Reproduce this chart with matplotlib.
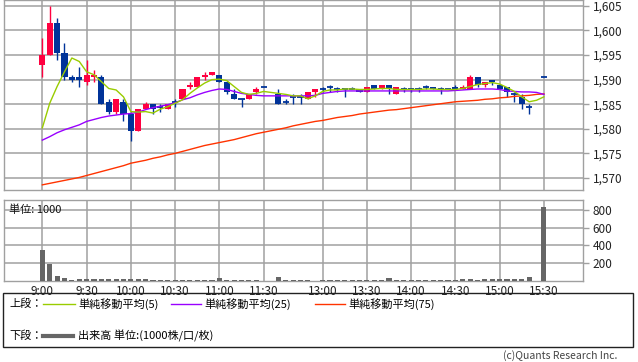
import numpy as np
import matplotlib
matplotlib.use('Agg')
import matplotlib.pyplot as plt
from matplotlib.patches import Rectangle
from matplotlib.lines import Line2D

plt.rcParams['font.family'] = ['Noto Sans CJK JP', 'DejaVu Sans']

# 5-minute slots: 0..30 = 9:00..11:30, 31 = lunch gap, 32..68 = 12:30..15:30
tick_labels = ['9:00', '9:30', '10:00', '10:30', '11:00', '11:30',
               '13:00', '13:30', '14:00', '14:30', '15:00', '15:30']

def slot(t):
    h, m = map(int, t.split(':'))
    mins = h * 60 + m
    if mins <= 11 * 60 + 30:
        return (mins - 9 * 60) // 5
    return (mins - (12 * 60 + 30)) // 5 + 32

N = 69
# OHLC per slot (None = no trade)
opens = [1593, 1595, 1601.5, 1595.5, 1590.5, 1590.5, 1589.5, 1590.5, 1590.5, 1585.5,
         1583.5, 1585.5, 1583, 1579.5, 1584, 1585, 1584.5, 1584, 1585.5, 1586,
         1588.5, 1588.5, 1590.5, 1591, 1591, 1589.5, 1587, 1586, 1586, 1587.5,
         1588.5, None, 1587, 1585.5, 1586.5, 1586.5, 1586, 1587.5, 1588, 1588.5,
         1588, 1588, 1588, 1588, 1587.5, 1589, 1588, 1589, 1587, 1588,
         1588, 1588, 1588.5, 1588.5, 1588, 1588, 1588.5, 1588, 1588, 1590.5,
         1589, 1590, 1589, 1588.5, 1587, 1586.5, 1584.5, None, 1590.5]
highs = [1598.5, 1605, 1602.5, 1597.5, 1591, 1592.5, 1594, 1592, 1591, 1586,
         1586, 1586, 1583.5, 1584, 1585.5, 1585, 1585, 1585, 1586, 1588,
         1589.5, 1590.5, 1591.5, 1591.5, 1591, 1589.5, 1588, 1586, 1587, 1588.5,
         1588.5, None, 1588, 1586, 1587, 1587, 1587.5, 1588, 1588.5, 1589,
         1588.5, 1588, 1588.5, 1588, 1588.5, 1589, 1589, 1589, 1588.5, 1588.5,
         1588, 1588.5, 1589, 1588.5, 1588.5, 1588, 1589, 1589, 1591, 1590.5,
         1589.5, 1590, 1589, 1588.5, 1587.5, 1587, 1585, None, 1590.5]
lows = [1590.5, 1595, 1594, 1590, 1589.5, 1588.5, 1589, 1589.5, 1585, 1583,
        1583, 1581.5, 1577.5, 1579.5, 1584, 1583, 1583.5, 1584, 1584.5, 1586,
        1588, 1588.5, 1590, 1591, 1589.5, 1587, 1586, 1584.5, 1586, 1587,
        1588.5, None, 1585, 1585, 1585, 1585, 1586, 1586.5, 1587.5, 1587.5,
        1587.5, 1586.5, 1588, 1587.5, 1587.5, 1588, 1588, 1587, 1587, 1587.5,
        1587.5, 1587.5, 1588, 1588, 1587, 1588, 1588, 1588, 1588, 1588.5,
        1588.5, 1589, 1588, 1586.5, 1585.5, 1584, 1583, None, 1590.5]
closes = [1595, 1601.5, 1595.5, 1590.5, 1590, 1590, 1591, 1591, 1585, 1583.5,
          1586, 1583, 1579.5, 1584, 1585, 1584, 1584.5, 1585, 1585.5, 1588,
          1589, 1590.5, 1591, 1591.5, 1589.5, 1587.5, 1586, 1586, 1587, 1588,
          1588.5, None, 1585, 1585.5, 1586.5, 1586.5, 1587.5, 1588, 1588, 1588.5,
          1588, 1588, 1588, 1587.5, 1588.5, 1588, 1589, 1588, 1588.5, 1588,
          1588, 1588, 1588.5, 1588, 1588, 1588, 1588, 1588.5, 1590.5, 1589,
          1589.5, 1589.5, 1588, 1587.5, 1587, 1585, 1584.5, None, 1590.5]
volume = [343, 190, 57, 38, 15, 22, 22, 22, 28, 22,
          22, 28, 28, 22, 22, 15, 8, 6, 6, 15,
          15, 15, 10, 6, 30, 15, 6, 15, 10, 15,
          5, None, 40, 15, 15, 10, 8, 5, 8, 15,
          12, 12, 8, 15, 10, 12, 10, 30, 10, 12,
          15, 15, 12, 10, 12, 12, 15, 22, 22, 15,
          22, 22, 22, 22, 22, 22, 46, None, 830]

ma5 = [1580.2, 1585.2, 1588.6, 1591.6, 1594.4, 1593.7, 1591.6, 1591, 1589.6, 1588.2,
       1587.9, 1586.5, 1583.5, 1583.4, 1583.5, 1583.2, 1584, 1584.5, 1585.2, 1585.9,
       1587.2, 1588.3, 1589.3, 1590, 1590.1, 1589.8, 1588.6, 1587.4, 1587, 1587.2,
       1587.6, None, 1587.2, 1587, 1586.7, 1586.7, 1586.1, 1586.7, 1587.6, 1587.9,
       1587.9, 1588.1, 1588.1, 1588, 1588, 1588.1, 1588.2, 1588.2, 1588, 1588,
       1588, 1588, 1588.1, 1588.1, 1588, 1588, 1588, 1588.2, 1588.6, 1589,
       1589.2, 1589.4, 1589.1, 1588.4, 1587.6, 1586.5, 1585.5, 1585.8, 1586.5]
ma25 = [1577.7, 1578.4, 1579.2, 1579.8, 1580.3, 1580.8, 1581.5, 1581.9, 1582.3, 1582.6,
        1582.8, 1583, 1583.1, 1583.4, 1583.9, 1584.3, 1584.6, 1584.9, 1585.3, 1585.9,
        1586.3, 1586.9, 1587.4, 1587.8, 1588.1, 1588, 1587.6, 1587.2, 1587, 1586.8,
        1586.7, None, 1586.7, 1586.7, 1586.7, 1586.7, 1586.7, 1586.8, 1587.2, 1587.4,
        1587.6, 1587.7, 1587.7, 1587.7, 1587.7, 1587.7, 1587.7, 1587.7, 1587.7, 1587.7,
        1587.7, 1587.7, 1587.7, 1587.7, 1587.7, 1587.7, 1587.8, 1587.9, 1588, 1588.1,
        1588.1, 1588.1, 1588, 1587.7, 1587.6, 1587.5, 1587.5, 1587.4, 1587]
ma75 = [1568.6, 1568.9, 1569.2, 1569.5, 1569.8, 1570.1, 1570.5, 1570.9, 1571.3, 1571.7,
        1572.1, 1572.5, 1573, 1573.3, 1573.6, 1574, 1574.3, 1574.7, 1575, 1575.4,
        1575.8, 1576.2, 1576.6, 1576.9, 1577.2, 1577.5, 1577.8, 1578.2, 1578.6, 1579,
        1579.3, None, 1579.9, 1580.2, 1580.6, 1580.9, 1581.2, 1581.5, 1581.7, 1582,
        1582.3, 1582.5, 1582.7, 1583, 1583.2, 1583.4, 1583.6, 1583.8, 1583.9, 1584.1,
        1584.3, 1584.5, 1584.7, 1584.9, 1585.1, 1585.3, 1585.5, 1585.6, 1585.7, 1585.8,
        1586, 1586.1, 1586.3, 1586.4, 1586.6, 1586.7, 1586.8, 1587, 1587.1]

UP = '#ff0040'
DOWN = '#003399'
GRID = '#a0a0a0'

W, H = 638, 362
fig = plt.figure(figsize=(W / 100, H / 100), dpi=100)

def px_axes(x0, y0, x1, y1):
    return fig.add_axes([x0 / W, 1 - y1 / H, (x1 - x0) / W, (y1 - y0) / H])

ax = px_axes(4, 0, 583, 190)
axv = px_axes(4, 200, 583, 281)

tick_pos = [slot(t) for t in tick_labels]
xlim = (-5.2, 73.3)

for a in (ax, axv):
    a.set_xlim(*xlim)
    a.set_xticks(tick_pos)
    a.yaxis.tick_right()
    a.grid(True, color=GRID, lw=1.1)
    a.set_axisbelow(True)
    for s in a.spines.values():
        s.set_color(GRID)
        s.set_linewidth(1.0)
    a.tick_params(axis='y', colors=GRID, length=4, width=1, labelcolor='#222222',
                  labelsize=8.5, pad=3)
    a.tick_params(axis='x', length=0)

ax.set_xticklabels([])
axv.set_xticklabels(tick_labels, fontsize=8.5, color='#222222')
axv.tick_params(axis='x', pad=3)

# price panel
ax.set_ylim(1567.55, 1606.2)
ax.set_yticks(np.arange(1570, 1606, 5))
ax.set_yticklabels(['{:,}'.format(v) for v in range(1570, 1606, 5)])

for i in range(N):
    o, h, l, c = opens[i], highs[i], lows[i], closes[i]
    if o is None:
        continue
    col = UP if c > o else DOWN
    ax.vlines(i, l, h, color=col, lw=1.0, zorder=3)
    if c == o:
        ax.hlines(o, i - 0.42, i + 0.42, color=col, lw=1.3, zorder=3)
    else:
        ax.bar(i, abs(c - o), bottom=min(o, c), width=0.82, color=col, zorder=3)

xs = np.arange(N)
for vals, col in ((ma75, '#ff3300'), (ma25, '#9900ff'), (ma5, '#99cc00')):
    pts = [(x, v) for x, v in zip(xs, vals) if v is not None]
    ax.plot([p[0] for p in pts], [p[1] for p in pts], color=col, lw=1.0, zorder=4)

# volume panel
axv.set_ylim(0, 910)
axv.set_yticks([200, 400, 600, 800])
vx = [i for i in range(N) if volume[i] is not None]
vy = [volume[i] for i in vx]
axv.bar(vx, vy, width=0.7, color='#666666', zorder=3)
axv.text(0.008, 0.88, '単位: 1000', transform=axv.transAxes, fontsize=8,
         va='center', ha='left', color='#111111')

# legend box
fig.add_artist(Rectangle((3 / W, 1 - 347 / H), 630 / W, 54 / H, transform=fig.transFigure,
                         fill=False, edgecolor='#222222', lw=1.0))

def fy(y):
    return 1 - y / H

row1, row2 = 304, 336
fig.text(9 / W, fy(row1), '上段：', fontsize=8, va='center')
entries = [(43, 75, '#99cc00', '単純移動平均(5)'),
           (171, 201, '#9900ff', '単純移動平均(25)'),
           (315, 345, '#ff3300', '単純移動平均(75)')]
for x0, x1, col, lab in entries:
    fig.add_artist(Line2D([x0 / W, x1 / W], [fy(row1), fy(row1)], color=col, lw=1.0,
                          transform=fig.transFigure))
    fig.text((x1 + 3) / W, fy(row1), lab, fontsize=8, va='center')

fig.text(9 / W, fy(row2), '下段：', fontsize=8, va='center')
fig.add_artist(Line2D([43 / W, 73 / W], [fy(row2), fy(row2)], color='#666666', lw=3.0,
                      transform=fig.transFigure))
fig.text(78 / W, fy(row2), '出来高 単位:(1000株/口/枚)', fontsize=8, va='center')

fig.text(617 / W, fy(356), '(c)Quants Research Inc.', fontsize=7.5, ha='right',
         va='center', color='#444444')

fig.savefig('out.png', dpi=100)
